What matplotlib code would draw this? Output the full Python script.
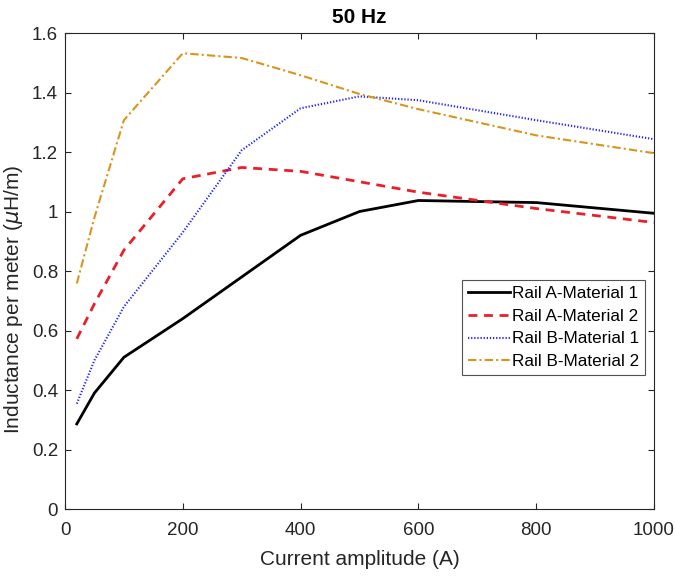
import matplotlib
matplotlib.use("Agg")
import matplotlib.pyplot as plt
from matplotlib.ticker import FuncFormatter

plt.rcParams['font.family'] = ['Liberation Sans', 'DejaVu Sans']

current = [20, 50, 100, 200, 300, 400, 500, 600, 800, 1000]
rail_a_mat1 = [0.286, 0.39, 0.51, 0.64, 0.78, 0.92, 1.0, 1.037, 1.03, 0.994]
rail_a_mat2 = [0.572, 0.69, 0.87, 1.11, 1.148, 1.135, 1.10, 1.065, 1.01, 0.963]
rail_b_mat1 = [0.354, 0.50, 0.68, 0.93, 1.206, 1.347, 1.387, 1.374, 1.307, 1.243]
rail_b_mat2 = [0.758, 0.98, 1.307, 1.532, 1.516, 1.458, 1.395, 1.344, 1.256, 1.196]

labels = ['Rail A-Material 1', 'Rail A-Material 2',
          'Rail B-Material 1', 'Rail B-Material 2']
x_ticks = [0, 200, 400, 600, 800, 1000]
y_ticks = [0, 0.2, 0.4, 0.6, 0.8, 1.0, 1.2, 1.4, 1.6]

fig = plt.figure(figsize=(6.75, 5.76), dpi=100)
ax = fig.add_axes([0.0963, 0.1163, 0.8726, 0.8264])

ax.plot(current, rail_a_mat1, color='black', linestyle='-', linewidth=2, label=labels[0])
ax.plot(current, rail_a_mat2, color='#e8202a', linestyle=(0, (3.2, 2.4)), linewidth=2, label=labels[1])
ax.plot(current, rail_b_mat1, color='#1f1fff', linestyle=(0, (0.6, 0.9)), linewidth=1.5, label=labels[2])
ax.plot(current, rail_b_mat2, color='#d9941c', linestyle=(0, (4, 1.5, 1, 1.5)), linewidth=1.5, label=labels[3])

ax.set_xlim(0, 1000)
ax.set_ylim(0, 1.6)
ax.set_xticks(x_ticks)
ax.set_yticks(y_ticks)
ax.yaxis.set_major_formatter(FuncFormatter(lambda v, p: f"{v:g}"))

for side in ['top', 'right', 'bottom', 'left']:
    ax.spines[side].set_color('#262626')
    ax.spines[side].set_linewidth(0.8)
ax.tick_params(direction='in', top=True, right=True, length=4, width=0.8,
               colors='#262626', labelsize=13.5, labelcolor='#262626')
ax.tick_params(axis='x', pad=9)
ax.tick_params(axis='y', pad=5)

ax.set_title('50 Hz', fontsize=15, fontweight='bold', color='black', pad=7)
ax.set_xlabel('Current amplitude (A)', fontsize=15, color='#262626', labelpad=8)
ax.set_ylabel(r'Inductance per meter ($\mu$H/m)', fontsize=15, color='#262626')
ax.yaxis.set_label_coords(-0.068, 0.44)

leg = ax.legend(loc='center right', bbox_to_anchor=(0.985, 0.381), fontsize=12.3,
                frameon=True, fancybox=False, edgecolor='#262626',
                handlelength=2.5, handletextpad=0.1, borderpad=0.35,
                labelspacing=0.45, borderaxespad=0.0)
leg.get_frame().set_linewidth(0.8)

fig.savefig('out.png', dpi=100)
